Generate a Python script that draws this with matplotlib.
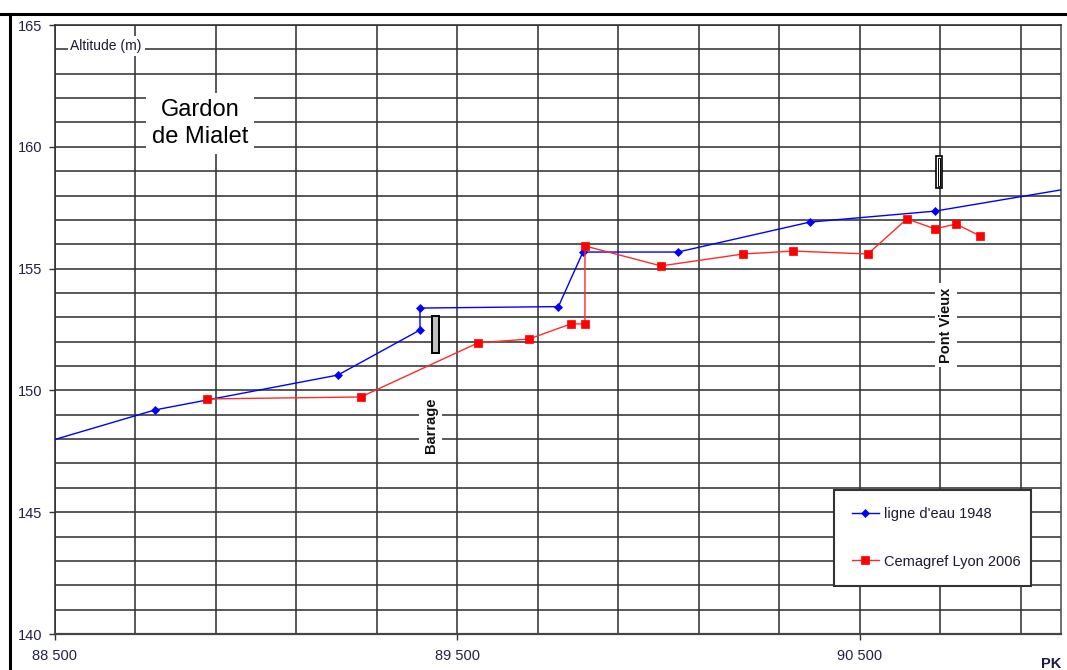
import matplotlib
matplotlib.use("Agg")
import numpy as np
import matplotlib.pyplot as plt
from matplotlib.ticker import MultipleLocator, FixedLocator, FuncFormatter
from matplotlib.patches import Rectangle
from matplotlib.lines import Line2D

# ---------------- data ----------------
pk_1948 = [88400, 88749, 89203, 89407, 89407, 89751, 89812, 90048, 90376, 90687, 91100]
alt_1948 = [147.50, 149.20, 150.63, 152.48, 153.38, 153.44, 155.68, 155.68, 156.91, 157.36, 158.51]

pk_2006 = [88878, 89260, 89551, 89678, 89782, 89817, 89817, 90006, 90210, 90334,
           90520, 90617, 90687, 90739, 90799]
alt_2006 = [149.65, 149.73, 151.95, 152.11, 152.73, 152.73, 155.93, 155.11, 155.60, 155.72,
            155.60, 157.04, 156.63, 156.83, 156.34]

series_labels = ["ligne d'eau 1948", "Cemagref Lyon 2006"]
x_tick_values = [88500, 89500, 90500]

# structures (pk, bottom altitude, top altitude, width in m)
barrage = (89446, 151.55, 153.05, 19)
pont_vieux = (90697, 158.30, 159.62, 17)

# ---------------- figure ----------------
FONT = ["Liberation Sans", "DejaVu Sans"]
plt.rcParams["font.family"] = FONT

fig = plt.figure(figsize=(10.67, 6.70), dpi=100)
ax = fig.add_axes([55 / 1067, (670 - 634) / 670, 1006 / 1067, 609 / 670])

ax.set_xlim(88500, 91000)
ax.set_ylim(140, 165)

ax.xaxis.set_major_locator(FixedLocator(x_tick_values))
ax.xaxis.set_minor_locator(FixedLocator(np.arange(88500, 91001, 200)))
ax.yaxis.set_major_locator(MultipleLocator(5))
ax.yaxis.set_minor_locator(MultipleLocator(1))
ax.xaxis.set_major_formatter(FuncFormatter(lambda v, p: f"{int(v):,}".replace(",", " ")))
ax.yaxis.set_major_formatter(FuncFormatter(lambda v, p: f"{int(v)}"))

ax.set_axisbelow(True)
ax.grid(True, which="both", color="#333333", linewidth=1.15)

ax.tick_params(axis="both", which="major", direction="out", length=4, width=1,
               color="#333333", labelsize=10.5, labelcolor="#222244")
ax.tick_params(axis="x", which="major", pad=6.5)
ax.tick_params(axis="y", which="major", pad=5)
ax.tick_params(axis="both", which="minor", length=0)

for side, sp in ax.spines.items():
    sp.set_color("#333333")
    sp.set_linewidth(1.2)
ax.spines["bottom"].set_color("#444444")
ax.spines["bottom"].set_linewidth(1.6)
ax.spines["right"].set_color("#555555")

# series
l1, = ax.plot(pk_1948, alt_1948, color="#0000ff", linewidth=1.0, marker="D",
              markersize=3.6, markerfacecolor="#0000ff", markeredgecolor="#0000ff",
              markeredgewidth=0.5, zorder=4)
l2, = ax.plot(pk_2006, alt_2006, color="#ff2a2a", linewidth=1.0, marker="s",
              markersize=5.5, markerfacecolor="#ff0000", markeredgecolor="#ff0000",
              markeredgewidth=0.5, zorder=4)

# structures
bx, bb, bt, bw = barrage
ax.add_patch(Rectangle((bx - bw / 2, bb), bw, bt - bb, facecolor="#c0c0c0",
                       edgecolor="black", linewidth=1.4, zorder=5))
px_, pb, pt, pw = pont_vieux
ax.add_patch(Rectangle((px_ - pw / 2, pb), pw, pt - pb, facecolor="white",
                       edgecolor="black", linewidth=1.2, zorder=5))
ax.add_patch(Rectangle((px_ - pw / 2 + 5, pb + 0.08), pw - 10, pt - pb - 0.16,
                       facecolor="white", edgecolor="black", linewidth=0.7, zorder=6))

# texts
box = dict(boxstyle="square,pad=0.3", facecolor="white", edgecolor="none")
ax.text(88627, 164.14, "Altitude (m)", fontsize=10, ha="center", va="center",
        color="#1a1a33", bbox=dict(boxstyle="square,pad=0.2", facecolor="white", edgecolor="none"),
        zorder=6)
ax.text(88860, 160.95, "Gardon\nde Mialet", fontsize=17, ha="center", va="center",
        linespacing=1.27, color="black",
        bbox=dict(boxstyle="square,pad=0.25", facecolor="white", edgecolor="none"), zorder=6)
ax.text(89434, 148.58, "Barrage", fontsize=10.5, fontweight="bold", rotation=90,
        ha="center", va="center", color="#111111", bbox=box, zorder=6)
ax.text(90714, 152.68, "Pont Vieux", fontsize=10.5, fontweight="bold", rotation=90,
        ha="center", va="center", color="#111111", bbox=box, zorder=6)

# legend
leg = ax.legend([l1, l2], series_labels, loc="upper left", mode="expand",
                bbox_to_anchor=(0.7744, 0.0805, 0.1958, 0.156), borderaxespad=0,
                frameon=True, fancybox=False, edgecolor="#333333", framealpha=1,
                fontsize=10.5, labelspacing=2.27, borderpad=1.2, handlelength=1.9,
                handletextpad=0.35)
leg.get_frame().set_linewidth(1.5)
leg.set_zorder(7)
for t in leg.get_texts():
    t.set_color("#1a1a33")

# PK label
fig.text(1051 / 1067, 1 - 664 / 670, "PK", fontsize=10.5, fontweight="bold",
         ha="center", va="center", color="#1a1a44")

# outer screenshot border (top and left)
ytop = 1 - 13.5 / 670
xleft = 9.5 / 1067
fig.add_artist(Line2D([0, 1], [ytop, ytop], transform=fig.transFigure, color="black", linewidth=2.2))
fig.add_artist(Line2D([xleft, xleft], [0, ytop], transform=fig.transFigure, color="black", linewidth=2.2))

fig.savefig("out.png", dpi=100)
